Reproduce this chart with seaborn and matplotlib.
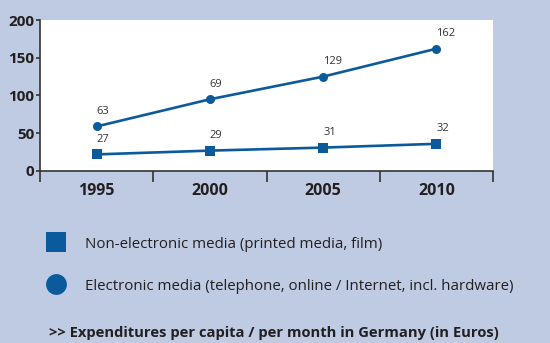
import matplotlib
matplotlib.use("Agg")
import matplotlib.pyplot as plt
from matplotlib.lines import Line2D
import numpy as np
import pandas as pd
import seaborn as sns

years = ["1995", "2000", "2005", "2010"]
electronic = [59, 95, 125, 162]
non_electronic = [22, 27, 31, 36]
electronic_labels = ["63", "69", "129", "162"]
non_electronic_labels = ["27", "29", "31", "32"]
series_names = ["Non-electronic media (printed media, film)",
                "Electronic media (telephone, online / Internet, incl. hardware)"]
title = ">> Expenditures per capita / per month in Germany (in Euros)"
yticks = [0, 50, 100, 150, 200]

BG = "#BFCBE3"
BLUE = "#0B5A9C"
DARK = "#231F20"

sns.set_theme(style="white")
plt.rcParams["font.family"] = ["Open Sans", "DejaVu Sans"]

pos = np.arange(len(years))
df = pd.DataFrame({
    "pos": np.concatenate([pos, pos]),
    "value": non_electronic + electronic,
    "series": [series_names[0]] * len(years) + [series_names[1]] * len(years),
})

fig = plt.figure(figsize=(5.5, 3.43), dpi=100, facecolor=BG)
ax = fig.add_axes([40 / 550, 1 - 171 / 343, 453 / 550, 151 / 343])
ax.set_facecolor("white")

sns.lineplot(data=df[df.series == series_names[0]], x="pos", y="value",
             color=BLUE, marker="s", markersize=7, markeredgewidth=0,
             linewidth=1.9, ax=ax, legend=False)
sns.lineplot(data=df[df.series == series_names[1]], x="pos", y="value",
             color=BLUE, marker="o", markersize=6.5, markeredgewidth=0,
             linewidth=1.9, ax=ax, legend=False)

for xs, vals, labs in [(pos, non_electronic, non_electronic_labels),
                       (pos, electronic, electronic_labels)]:
    for x, v, t in zip(xs, vals, labs):
        ax.annotate(t, (x, v), xytext=(0, 7), textcoords="offset points",
                    ha="left", va="bottom", fontsize=8, color="#333333")

ax.set_xlim(-0.5, len(years) - 0.5)
ax.set_ylim(0, 200)
ax.set_xlabel("")
ax.set_ylabel("")
ax.set_xticks(pos)
ax.set_xticklabels(years, fontsize=11.5, fontweight="bold", color=DARK)
ax.set_xticks(np.arange(len(years) + 1) - 0.5, minor=True)
ax.tick_params(axis="x", which="major", length=0, pad=9)
ax.tick_params(axis="x", which="minor", length=8, width=1.2, color="#333333",
               direction="out", bottom=True)
ax.set_yticks(yticks)
ax.set_yticklabels([str(v) for v in yticks], fontsize=11, fontweight="bold", color=DARK)
ax.tick_params(axis="y", length=3, width=1.2, color="#333333", pad=1, left=True)

for s in ["top", "right"]:
    ax.spines[s].set_visible(False)
for s in ["left", "bottom"]:
    ax.spines[s].set_color("#333333")
    ax.spines[s].set_linewidth(1.2)

handles = [
    Line2D([], [], marker="s", linestyle="none", color=BLUE, markersize=15, markeredgewidth=0),
    Line2D([], [], marker="o", linestyle="none", color=BLUE, markersize=15, markeredgewidth=0),
]
fig.legend(handles, series_names, loc="upper left", bbox_to_anchor=(37 / 550, 1 - 229 / 343),
           frameon=False, fontsize=10.8, labelcolor=DARK, handletextpad=1.2,
           labelspacing=1.8, borderpad=0, handlelength=1.5)

fig.text(49 / 550, 1 - 333 / 343, title, fontsize=10.6, fontweight="bold", color=DARK,
         ha="left", va="center")

fig.savefig("out.png", dpi=100, facecolor=BG)
